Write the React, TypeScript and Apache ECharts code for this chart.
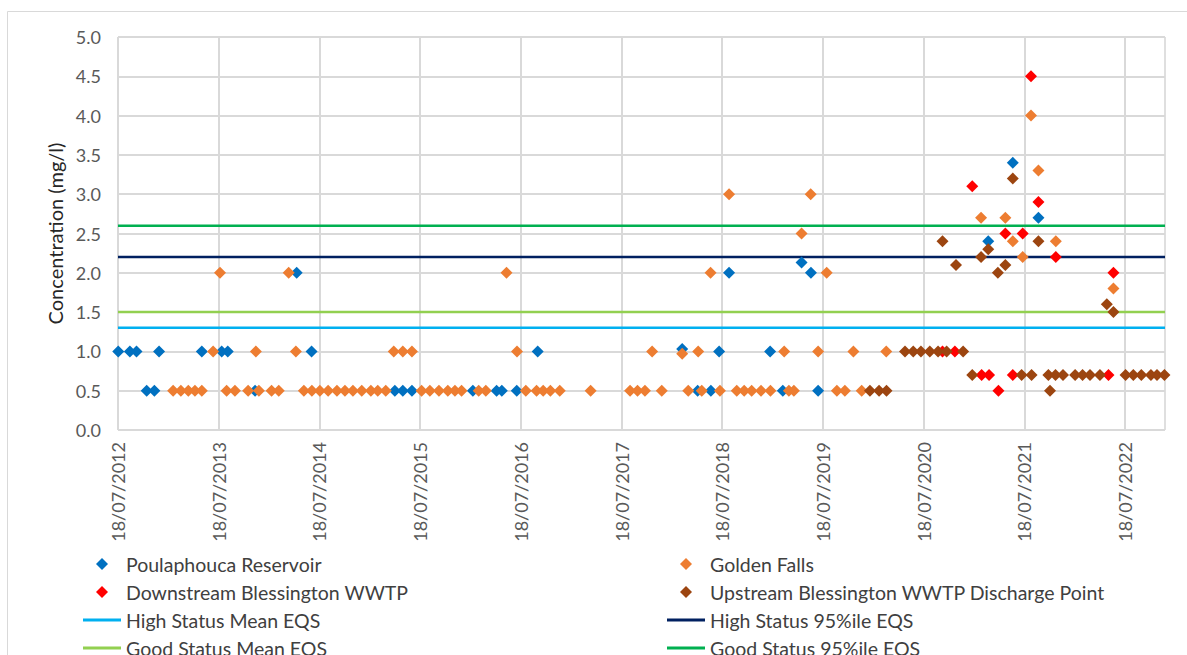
import React, { useEffect, useRef } from "react";
import * as echarts from "echarts";

const xStart = "2012-07-18";
const xEnd = "2022-12-10";
const tickDates = [
  "2012-07-18", "2013-07-18", "2014-07-18", "2015-07-18", "2016-07-18", "2017-07-18",
  "2018-07-18", "2019-07-18", "2020-07-18", "2021-07-18", "2022-07-18",
];

const poulaphouca: [string, number][] = [
  ["2012-07-19", 1.0], ["2012-08-30", 1.0], ["2012-09-23", 1.0], ["2012-12-14", 1.0],
  ["2013-05-18", 1.0], ["2013-07-29", 1.0], ["2013-08-20", 1.0], ["2014-06-20", 1.0],
  ["2016-09-17", 1.0], ["2018-07-07", 1.0], ["2019-01-08", 1.0], ["2018-02-23", 1.03],
  ["2012-10-30", 0.5], ["2012-11-27", 0.5], ["2013-11-27", 0.5], ["2015-04-18", 0.5],
  ["2015-05-17", 0.5], ["2015-06-19", 0.5], ["2016-01-26", 0.5], ["2016-04-21", 0.5],
  ["2016-05-10", 0.5], ["2016-07-03", 0.5], ["2018-04-20", 0.5], ["2018-06-07", 0.5],
  ["2019-02-23", 0.5], ["2019-07-01", 0.5],
  ["2014-04-27", 2.0], ["2018-08-12", 2.0], ["2019-05-02", 2.13], ["2019-06-05", 2.0],
  ["2021-06-06", 3.4], ["2021-09-07", 2.7], ["2021-03-09", 2.4],
];

const goldenFalls: [string, number][] = [
  ["2013-06-28", 1.0], ["2013-11-30", 1.0], ["2014-04-24", 1.0], ["2015-04-14", 1.0],
  ["2015-05-17", 1.0], ["2015-06-19", 1.0], ["2016-07-04", 1.0], ["2017-11-06", 1.0],
  ["2018-02-23", 0.97], ["2018-04-22", 1.0], ["2019-02-28", 1.0], ["2019-07-01", 1.0],
  ["2019-11-06", 1.0], ["2020-03-04", 1.0],
  ["2013-02-03", 0.5], ["2013-03-03", 0.5], ["2013-03-30", 0.5], ["2013-04-23", 0.5],
  ["2013-05-18", 0.5], ["2013-08-16", 0.5], ["2013-09-15", 0.5], ["2013-11-02", 0.5],
  ["2013-12-11", 0.5], ["2014-01-26", 0.5], ["2014-02-21", 0.5], ["2014-05-23", 0.5],
  ["2014-06-21", 0.5], ["2014-07-20", 0.5], ["2014-08-19", 0.5], ["2014-09-20", 0.5],
  ["2014-10-19", 0.5], ["2014-11-17", 0.5], ["2014-12-19", 0.5], ["2015-01-21", 0.5],
  ["2015-02-15", 0.5], ["2015-03-16", 0.5], ["2015-07-24", 0.5], ["2015-08-23", 0.5],
  ["2015-09-25", 0.5], ["2015-10-27", 0.5], ["2015-11-22", 0.5], ["2015-12-16", 0.5],
  ["2016-02-16", 0.5], ["2016-03-13", 0.5], ["2016-08-05", 0.5], ["2016-09-13", 0.5],
  ["2016-10-07", 0.5], ["2016-11-02", 0.5], ["2016-12-06", 0.5], ["2017-03-28", 0.5],
  ["2017-08-18", 0.5], ["2017-09-14", 0.5], ["2017-10-11", 0.5], ["2017-12-11", 0.5],
  ["2018-03-17", 0.5], ["2018-05-05", 0.5], ["2018-07-10", 0.5], ["2018-09-09", 0.5],
  ["2018-10-06", 0.5], ["2018-11-02", 0.5], ["2018-12-06", 0.5], ["2019-01-09", 0.5],
  ["2019-03-17", 0.5], ["2019-04-04", 0.5], ["2019-09-07", 0.5], ["2019-10-06", 0.5],
  ["2019-12-06", 0.5],
  ["2013-07-23", 2.0], ["2014-03-29", 2.0], ["2016-05-27", 2.0], ["2018-06-06", 2.0],
  ["2019-08-01", 2.0], ["2018-08-12", 3.0], ["2019-06-04", 3.0], ["2019-05-02", 2.5],
  ["2021-08-11", 4.0], ["2021-09-07", 3.3], ["2021-02-11", 2.7], ["2021-05-10", 2.7],
  ["2021-06-06", 2.4], ["2021-11-09", 2.4], ["2021-07-12", 2.2], ["2022-06-06", 1.8],
];

const downstream: [string, number][] = [
  ["2020-09-24", 1.0], ["2020-11-08", 1.0], ["2021-02-13", 0.7], ["2021-03-12", 0.7],
  ["2021-06-06", 0.7], ["2022-05-19", 0.7], ["2021-04-15", 0.5],
  ["2021-08-11", 4.5], ["2021-01-10", 3.1], ["2021-09-07", 2.9], ["2021-05-10", 2.5],
  ["2021-07-12", 2.5], ["2021-11-09", 2.2], ["2022-06-06", 2.0],
];

const upstream: [string, number][] = [
  ["2020-01-05", 0.5], ["2020-02-07", 0.5], ["2020-03-05", 0.5],
  ["2020-05-11", 1.0], ["2020-06-10", 1.0], ["2020-07-08", 1.0], ["2020-08-09", 1.0],
  ["2020-09-08", 1.0], ["2020-10-09", 1.0], ["2020-12-08", 1.0],
  ["2021-01-10", 0.7], ["2021-07-08", 0.7], ["2021-08-13", 0.7], ["2021-10-13", 0.7],
  ["2021-11-08", 0.7], ["2021-12-05", 0.7], ["2022-01-18", 0.7], ["2022-02-14", 0.7],
  ["2022-03-13", 0.7], ["2022-04-18", 0.7], ["2022-07-20", 0.7], ["2022-08-17", 0.7],
  ["2022-09-15", 0.7], ["2022-10-20", 0.7], ["2022-11-11", 0.7], ["2022-12-08", 0.7],
  ["2021-10-19", 0.5],
  ["2020-09-24", 2.4], ["2020-11-12", 2.1], ["2021-03-09", 2.3], ["2021-02-11", 2.2],
  ["2021-06-06", 3.2], ["2021-05-10", 2.1], ["2021-04-13", 2.0], ["2021-09-07", 2.4],
  ["2022-05-13", 1.6], ["2022-06-06", 1.5],
];

const eqsNames = [
  "High Status Mean EQS", "High Status 95%ile EQS", "Good Status Mean EQS", "Good Status 95%ile EQS",
];
const eqsValues = [1.3, 2.2, 1.5, 2.6];
const eqsColors = ["#00B0F0", "#002060", "#92D050", "#00B050"];

const scatterNames = [
  "Poulaphouca Reservoir", "Golden Falls", "Downstream Blessington WWTP",
  "Upstream Blessington WWTP Discharge Point",
];
const scatterColors = ["#0070C0", "#ED7D31", "#FF0000", "#9C4510"];
const scatterData = [poulaphouca, goldenFalls, downstream, upstream];

// legend layout: [name, column, row, kind]
const legendOrder: [string, number, number, string][] = [
  ["Poulaphouca Reservoir", 0, 0, "dot"],
  ["Golden Falls", 1, 0, "dot"],
  ["Downstream Blessington WWTP", 0, 1, "dot"],
  ["Upstream Blessington WWTP Discharge Point", 1, 1, "dot"],
  ["High Status Mean EQS", 0, 2, "line"],
  ["High Status 95%ile EQS", 1, 2, "line"],
  ["Good Status Mean EQS", 0, 3, "line"],
  ["Good Status 95%ile EQS", 1, 3, "line"],
];

const toMs = (s: string) => {
  const [y, m, d] = s.split("-").map(Number);
  return Date.UTC(y, m - 1, d);
};
const pad = (n: number) => (n < 10 ? "0" + n : "" + n);
const fmtDate = (v: number) => {
  const d = new Date(v);
  return pad(d.getUTCDate()) + "/" + pad(d.getUTCMonth() + 1) + "/" + d.getUTCFullYear();
};

export default function App() {
  const ref = useRef<HTMLDivElement>(null);
  useEffect(() => {
    document.body.style.margin = "0";
    if (!ref.current) return;
    const chart = echarts.init(ref.current, undefined, { renderer: "svg" });
    const xMin = toMs(xStart);
    const xMax = toMs(xEnd);
    const ticks = tickDates.map(toMs);
    const font = "Lato";
    const scatters = scatterNames.map((name, i) => ({
      name,
      type: "scatter",
      symbol: "diamond",
      symbolSize: 12,
      itemStyle: { color: scatterColors[i], opacity: 1 },
      data: scatterData[i].map(([d, v]) => [toMs(d), v]),
      z: 3,
    }));
    const lines = eqsNames.map((name, i) => ({
      name,
      type: "line",
      symbol: "none",
      showSymbol: false,
      silent: true,
      lineStyle: { color: eqsColors[i], width: 2.5 },
      itemStyle: { color: eqsColors[i] },
      data: [[xMin, eqsValues[i]], [xMax, eqsValues[i]]],
      z: 2,
    }));
    const colLeft = [83, 667];
    const rowCenter = [564, 592, 620, 648];
    const legends = legendOrder.map(([name, col, row, kind]) => {
      const isLine = kind === "line";
      return {
        show: true,
        orient: "horizontal",
        left: isLine ? colLeft[col] : colLeft[col] + 13,
        top: rowCenter[row] - 10,
        padding: 0,
        itemWidth: isLine ? 38 : 12,
        itemHeight: isLine ? 3 : 12,
        icon: isLine ? "rect" : "diamond",
        selectedMode: false,
        data: [name],
        textStyle: {
          fontFamily: font,
          fontSize: 19.5,
          color: "#404040",
          lineHeight: 20,
          padding: isLine ? 0 : [0, 0, 0, 13],
        },
      };
    });
    chart.setOption({
      animation: false,
      textStyle: { fontFamily: font },
      graphic: [
        {
          type: "rect",
          shape: { x: 7.5, y: 11.5, width: 1300, height: 700 },
          style: { fill: "none", stroke: "#D9D9D9", lineWidth: 1 },
          silent: true,
        },
      ],
      grid: {
        left: 118, top: 37, width: 1047, height: 393,
        show: true, borderColor: "#BFBFBF", borderWidth: 1,
      },
      legend: legends,
      xAxis: {
        type: "value",
        min: xMin,
        max: xMax,
        axisLine: { show: false },
        axisTick: { show: false, customValues: ticks },
        axisLabel: {
          customValues: ticks,
          rotate: 90,
          margin: 12,
          formatter: (v: number) => fmtDate(v),
          fontFamily: font,
          fontSize: 18,
          color: "#595959",
        },
        splitLine: { show: true, lineStyle: { color: "#D9D9D9", width: 2 } },
      },
      yAxis: {
        type: "value",
        min: 0,
        max: 5,
        interval: 0.5,
        name: "Concentration (mg/l)",
        nameLocation: "middle",
        nameGap: 51,
        nameTextStyle: { fontFamily: font, fontSize: 20, color: "#262626" },
        axisLine: { show: false },
        axisTick: { show: false },
        axisLabel: {
          margin: 17,
          formatter: (v: number) => v.toFixed(1),
          fontFamily: font,
          fontSize: 18,
          color: "#595959",
        },
        splitLine: { show: true, lineStyle: { color: "#D9D9D9", width: 2 } },
      },
      series: [...lines, ...scatters],
    });
    return () => chart.dispose();
  }, []);
  return <div ref={ref} style={{ width: 1187, height: 655 }} />;
}
